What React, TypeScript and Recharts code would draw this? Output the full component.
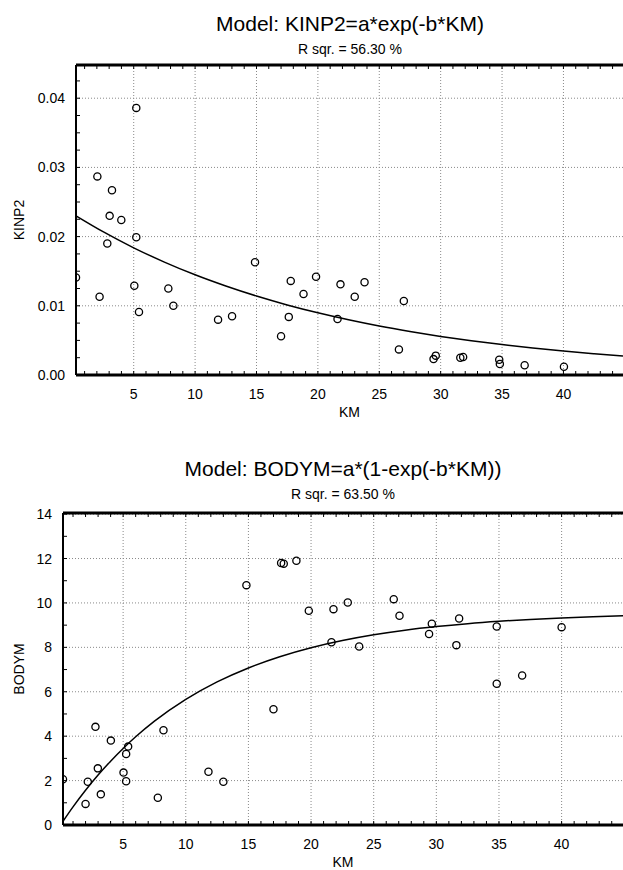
import { ScatterChart, Scatter, XAxis, YAxis, CartesianGrid, ReferenceLine } from 'recharts';

// KINP2 vs KM (upper panel)
const kinpKm = [
  0.3, 2.04, 2.22, 2.85, 3.04, 3.23, 3.99, 5.05, 5.21, 5.21, 5.43, 7.82, 8.23, 11.87, 13.01, 14.88, 17.0, 17.63,
  17.79, 18.83, 19.85, 21.6, 21.84, 23.0, 23.8, 26.6, 27.0, 29.42, 29.6, 31.6, 31.83, 34.77, 34.82, 36.84, 40.04,
];
const kinpVal = [
  0.0141, 0.0287, 0.0113, 0.019, 0.023, 0.0267, 0.0224, 0.0129, 0.0386, 0.0199, 0.0091, 0.0125, 0.01, 0.008, 0.0085,
  0.0163, 0.0056, 0.0084, 0.0136, 0.0117, 0.0142, 0.0081, 0.0131, 0.0113, 0.0134, 0.0037, 0.0107, 0.0023, 0.0028,
  0.0025, 0.0026, 0.0022, 0.0016, 0.0014, 0.0012,
];
const kinpFitKm = [0.3, 2.5, 5, 7.5, 10, 12.5, 15, 17.5, 20, 22.5, 25, 27.5, 30, 32.5, 35, 37.5, 40, 42.5, 44.85];
const kinpFitVal = [
  0.023, 0.02071, 0.01838, 0.01632, 0.01448, 0.01286, 0.01141, 0.01013, 0.00899, 0.00798, 0.00708, 0.00629, 0.00558,
  0.00495, 0.0044, 0.0039, 0.00346, 0.00308, 0.00275,
];

// BODYM vs KM (lower panel)
const bodyKm = [
  0.2, 2.0, 2.18, 2.79, 2.98, 3.22, 4.02, 5.03, 5.24, 5.24, 5.4, 7.77, 8.22, 11.81, 13.0, 14.84, 17.0, 17.61, 17.82,
  18.83, 19.82, 21.63, 21.79, 22.93, 23.84, 26.6, 27.06, 29.42, 29.64, 31.6, 31.82, 34.82, 34.82, 36.85, 40.0,
];
const bodyVal = [
  2.06, 0.95, 1.95, 4.42, 2.55, 1.38, 3.8, 2.36, 3.2, 1.97, 3.53, 1.23, 4.27, 2.4, 1.95, 10.8, 5.21, 11.8, 11.77, 11.9,
  9.65, 8.23, 9.72, 10.02, 8.04, 10.17, 9.42, 8.6, 9.06, 8.1, 9.3, 8.94, 6.36, 6.73, 8.91,
];
const bodyFitKm = [0.2, 1, 2, 3, 4, 5, 6, 7.5, 10, 12.5, 15, 17.5, 20, 22.5, 25, 27.5, 30, 32.5, 35, 37.5, 40, 42.5, 44.9];
const bodyFitVal = [
  0.169, 0.818, 1.566, 2.249, 2.875, 3.448, 3.972, 4.675, 5.657, 6.444, 7.073, 7.577, 7.981, 8.304, 8.563, 8.77, 8.935,
  9.068, 9.174, 9.259, 9.327, 9.381, 9.423,
];

// labelled ticks and the small inward tick marks between them
const kmTicks = [5, 10, 15, 20, 25, 30, 35, 40];
const kmMinor = [
  1, 2, 3, 4, 5, 6, 7, 8, 9, 10, 11, 12, 13, 14, 15, 16, 17, 18, 19, 20, 21, 22, 23, 24, 25, 26, 27, 28, 29, 30, 31,
  32, 33, 34, 35, 36, 37, 38, 39, 40, 41, 42, 43, 44,
];
const kinpTicks = [0, 0.01, 0.02, 0.03, 0.04];
const kinpMinor = [
  0, 0.0025, 0.005, 0.0075, 0.01, 0.0125, 0.015, 0.0175, 0.02, 0.0225, 0.025, 0.0275, 0.03, 0.0325, 0.035, 0.0375,
  0.04, 0.0425,
];
const bodyTicks = [0, 2, 4, 6, 8, 10, 12, 14];
const bodyMinor = [0, 1, 2, 3, 4, 5, 6, 7, 8, 9, 10, 11, 12, 13, 14];

const zip = (xs: number[], ys: number[]) => xs.map((x, i) => ({ x, y: ys[i] }));

const FONT = '"Liberation Sans", Arial, sans-serif';
const GAP = 10; // label distance from the axis line
const MARK = 4; // inward tick mark length

const OpenDot = (props: any) => (
  <circle cx={props.cx} cy={props.cy} r={3.6} fill="none" stroke="#000" strokeWidth={1.3} />
);

const isMajor = (major: number[], v: number) => major.some((m) => Math.abs(m - v) < 1e-9);

// bottom axis: tick mark pointing up into the plot, label under the axis
const BottomTick = (major: number[]) => (props: any) => {
  const { x, y, payload } = props;
  const axisY = y - GAP;
  return (
    <g>
      <line x1={x} x2={x} y1={axisY} y2={axisY - MARK} stroke="#000" />
      {isMajor(major, payload.value) && (
        <text x={x} y={y + 4} dy="0.71em" textAnchor="middle" fontSize={14} fill="#000" fontFamily={FONT}>
          {payload.value}
        </text>
      )}
    </g>
  );
};

const TopTick = (props: any) => {
  const { x, y } = props;
  return <line x1={x} x2={x} y1={y} y2={y + MARK} stroke="#000" />;
};

const LeftTick = (major: number[], fmt: (v: number) => string) => (props: any) => {
  const { x, y, payload } = props;
  const axisX = x + GAP;
  return (
    <g>
      <line x1={axisX} x2={axisX + MARK} y1={y} y2={y} stroke="#000" />
      {isMajor(major, payload.value) && (
        <text x={x - 1} y={y} dy="0.36em" textAnchor="end" fontSize={14} fill="#000" fontFamily={FONT}>
          {fmt(payload.value)}
        </text>
      )}
    </g>
  );
};

interface PanelProps {
  points: { x: number; y: number }[];
  fit: { x: number; y: number }[];
  xDomain: [number, number];
  yDomain: [number, number];
  yTicks: number[];
  yMinor: number[];
  yLabel: string;
  yFmt: (v: number) => string;
  height: number;
  top: number;
  yWidth: number;
}

function Panel({ points, fit, xDomain, yDomain, yTicks, yMinor, yLabel, yFmt, height, top, yWidth }: PanelProps) {
  return (
    <ScatterChart width={623} height={height} margin={{ top: top - 1, right: 0, bottom: 0, left: 0 }}>
      <CartesianGrid stroke="#8a8a8a" strokeDasharray="1 2" verticalValues={kmTicks} horizontalValues={yTicks} />
      <XAxis
        type="number"
        dataKey="x"
        domain={xDomain}
        allowDataOverflow
        ticks={kmMinor}
        interval={0}
        height={45}
        tickSize={0}
        tickMargin={GAP}
        tick={BottomTick(kmTicks)}
        tickLine={false}
        axisLine={false}
        label={{ value: 'KM', position: 'insideBottom', offset: 3, fontSize: 14, fill: '#000' }}
      />
      <XAxis
        xAxisId="top"
        orientation="top"
        type="number"
        dataKey="x"
        domain={xDomain}
        allowDataOverflow
        ticks={kmMinor}
        interval={0}
        height={1}
        tickSize={0}
        tickMargin={0}
        tick={TopTick}
        tickLine={false}
        axisLine={false}
      />
      <YAxis
        type="number"
        dataKey="y"
        domain={yDomain}
        allowDataOverflow
        ticks={yMinor}
        interval={0}
        width={yWidth}
        tickSize={0}
        tickMargin={GAP}
        tick={LeftTick(yTicks, yFmt)}
        tickLine={false}
        axisLine={false}
        label={{ value: yLabel, angle: -90, position: 'insideLeft', offset: 19, textAnchor: 'middle', fontSize: 14, fill: '#000' }}
      />
      <ReferenceLine x={xDomain[0]} stroke="#000" strokeWidth={2} ifOverflow="visible" />
      <ReferenceLine y={yDomain[0]} stroke="#000" strokeWidth={3} ifOverflow="visible" />
      <ReferenceLine y={yDomain[1]} stroke="#000" strokeWidth={3} ifOverflow="visible" />
      <Scatter
        data={fit}
        line={{ stroke: '#000', strokeWidth: 1.5 }}
        lineJointType="monotoneX"
        shape={() => <g />}
        isAnimationActive={false}
      />
      <Scatter data={points} shape={OpenDot} isAnimationActive={false} />
    </ScatterChart>
  );
}

export default function App() {
  return (
    <div style={{ position: 'absolute', left: 0, top: 0, width: 623, height: 870, background: '#fff', fontFamily: FONT }}>
      <div style={{ position: 'absolute', left: 0, top: 0 }}>
        <Panel
          points={zip(kinpKm, kinpVal)}
          fit={zip(kinpFitKm, kinpFitVal)}
          xDomain={[0.3, 44.85]}
          yDomain={[0, 0.0448]}
          yTicks={kinpTicks}
          yMinor={kinpMinor}
          yLabel="KINP2"
          yFmt={(v) => v.toFixed(2)}
          height={420}
          top={65}
          yWidth={76}
        />
      </div>
      <div style={{ position: 'absolute', left: 0, top: 435 }}>
        <Panel
          points={zip(bodyKm, bodyVal)}
          fit={zip(bodyFitKm, bodyFitVal)}
          xDomain={[0.2, 44.9]}
          yDomain={[0, 14.05]}
          yTicks={bodyTicks}
          yMinor={bodyMinor}
          yLabel="BODYM"
          yFmt={(v) => String(v)}
          height={435}
          top={78}
          yWidth={63}
        />
      </div>
      <svg width={623} height={870} style={{ position: 'absolute', left: 0, top: 0, pointerEvents: 'none' }}>
        <text x={350} y={31} textAnchor="middle" fontSize={21} fontFamily={FONT} fill="#000">
          Model: KINP2=a*exp(-b*KM)
        </text>
        <text x={350} y={54} textAnchor="middle" fontSize={14} fontFamily={FONT} fill="#000">
          R sqr. = 56.30 %
        </text>
        <text x={343} y={476} textAnchor="middle" fontSize={21} fontFamily={FONT} fill="#000">
          Model: BODYM=a*(1-exp(-b*KM))
        </text>
        <text x={343} y={499} textAnchor="middle" fontSize={14} fontFamily={FONT} fill="#000">
          R sqr. = 63.50 %
        </text>
      </svg>
    </div>
  );
}
